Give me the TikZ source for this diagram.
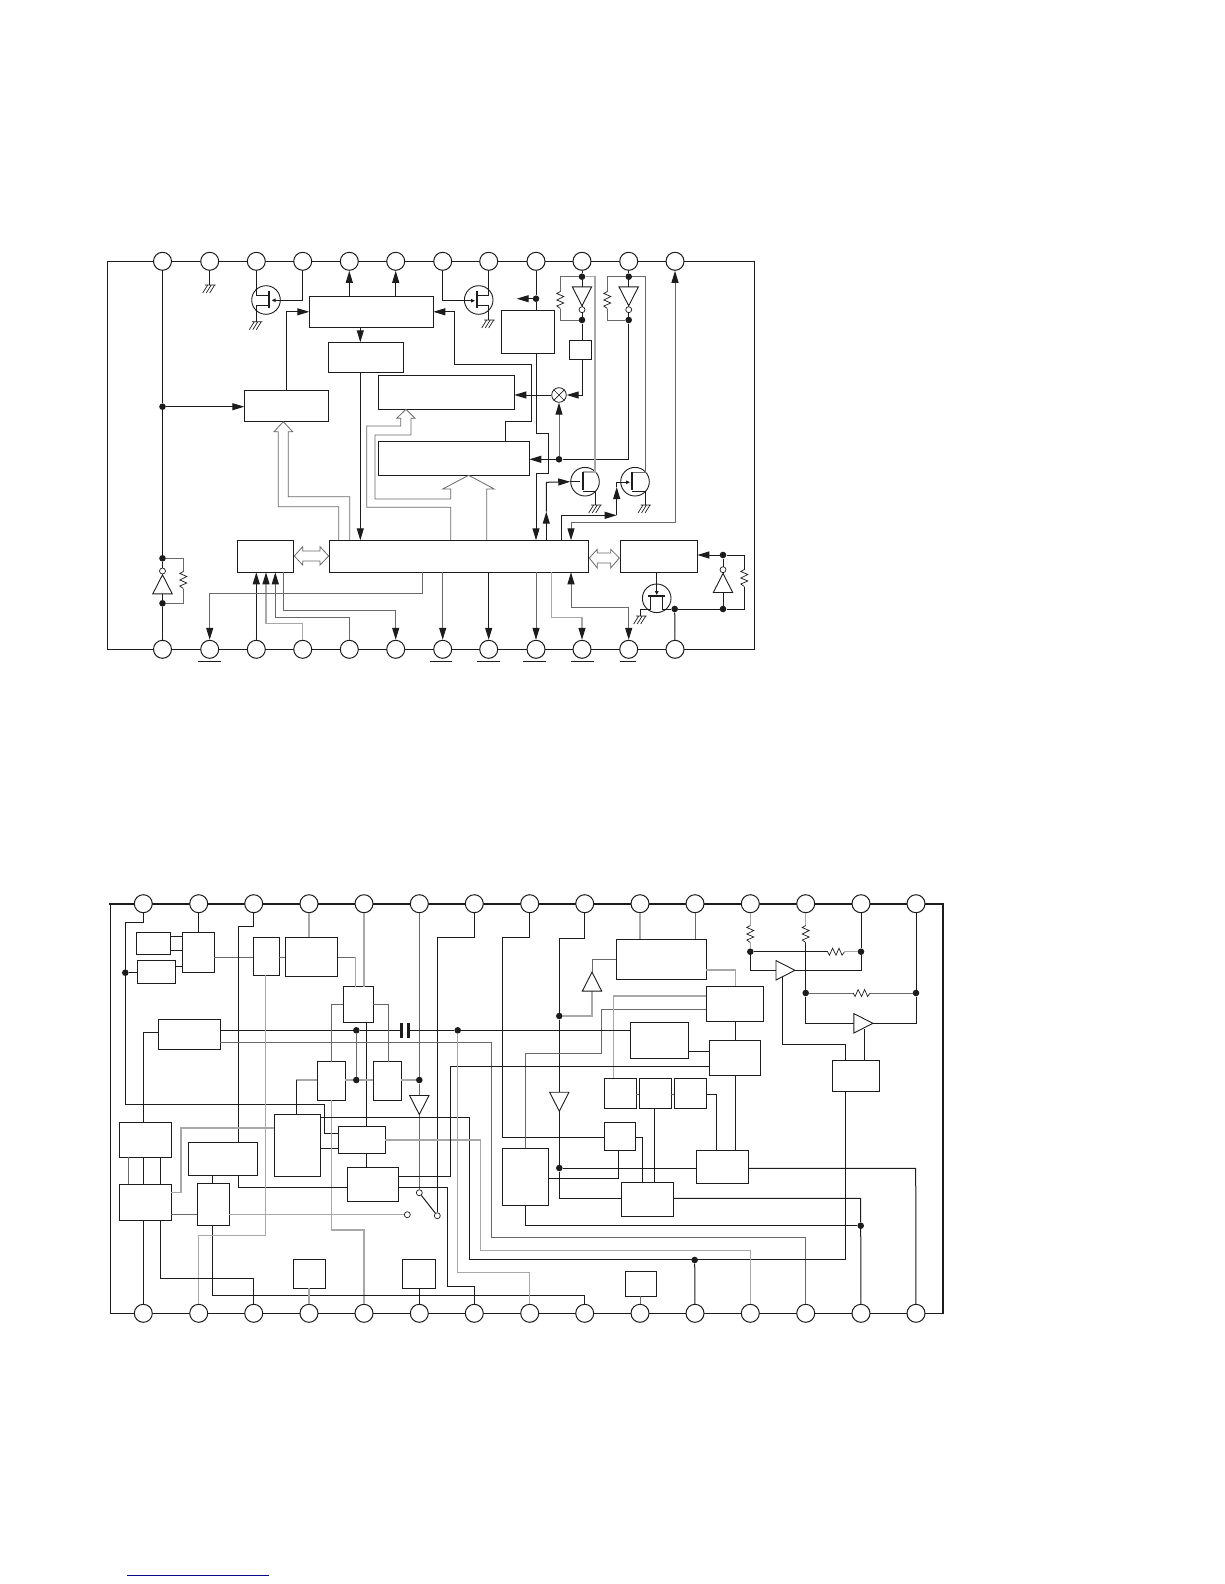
\documentclass[tikz,border=0pt]{standalone}
\usepackage{tikz}
\usetikzlibrary{arrows.meta,calc}
\definecolor{wirelight}{RGB}{168,168,168}
\definecolor{wiremid}{RGB}{105,105,105}
\definecolor{wiredark}{RGB}{28,28,28}
\definecolor{rulenavy}{RGB}{10,10,140}
\tikzset{
  x=1pt,y=-1pt,
  blk/.style={rectangle, draw=wiredark, line width=1pt, anchor=north west, inner sep=0pt, outer sep=0pt},
  pad/.style={circle, draw=wiredark, fill=white, line width=1pt, inner sep=0pt, minimum size=18pt},
  jn/.style={circle, fill=wiredark, inner sep=0pt, minimum size=6.6pt},
  opn/.style={circle, draw=wiredark, fill=white, line width=0.7pt, inner sep=0pt, minimum size=6pt},
  fetc/.style={circle, draw=wiredark, line width=0.9pt, inner sep=0pt, minimum size=28.6pt},
  wire/.style={line width=1pt, draw=wiredark},
  wirem/.style={line width=1pt, draw=wiremid},
  wirel/.style={line width=1.2pt, draw=wirelight},
  wireth/.style={line width=2pt, draw=wiredark},
  barline/.style={line width=2pt, draw=wiredark},
  capbar/.style={line width=3pt, draw=wiredark},
  arr/.style={wire, -{Triangle[length=12pt,width=7pt,wiredark]}},
  arrm/.style={wirem, -{Triangle[length=12pt,width=7pt,wiredark]}},
  arrl/.style={wirel, -{Triangle[length=12pt,width=7pt,wiredark]}},
  arrs/.style={wire, -{Triangle[length=4pt,width=3.5pt,wiredark]}},
  dbl/.style={wirem, {Triangle[length=12pt,width=7pt,wiredark]}-{Triangle[length=12pt,width=7pt,wiredark]}},
  bus/.style={line width=0.8pt, draw=wiremid},
  gndsym/.pic={\draw[line width=0.7pt,draw=wiredark] (-4.5,0) -- (6,0) (-2,0) -- (-7,8) (1.5,0) -- (-3.5,8) (5,0) -- (0,8);},
  reszig/.pic={\fill[white] (-4.5,-8.5) rectangle (4.5,8.5);
    \draw[line width=0.7pt,draw=wiredark] (0,-8.5) -- (-3.5,-6.5) -- (3.5,-3.5) -- (-3.5,0) -- (3.5,3) -- (-3.5,6) -- (0,8.5);},
  trisym/.pic={\draw[line width=0.9pt,draw=wiredark,fill=white] (-9.5,-9.7) -- (9.5,0) -- (-9.5,9.7) -- cycle;},
}
\begin{document}
\begin{tikzpicture}
  \useasboundingbox (0,0) rectangle (1224,1584);
  % upper chip
  \draw[wire] (107.5,261.3) rectangle (754.3,649.3);
  \foreach \n/\x in {1/162.5,2/209.7,3/256.3,4/302.7,5/349.3,6/395.7,7/442.7,8/488.7,9/536,10/582,11/628.7,12/675}{
    \node[pad] (pta\n) at (\x,261.3) {};
    \node[pad] (ptb\n) at (\x,649.3) {};
  }
  \foreach \x/\w in {197.7/23,430/22,477/23,523/23,571/23,620/16}{\draw[wire] (\x,661.3) -- ++(\w,0);}
  \foreach \n/\x/\y/\w/\h in {blka/309.3/296.3/124/31, blkb/328.3/342.3/75/30, blkc/244.3/390.3/84.4/31,
    blkd/378.3/375.3/136/34, blke/378.3/441.3/151/34, blkf/237.3/540.3/56/32, blkg/329.3/540.3/259/32,
    blkh/620.3/540.3/77/32, blki/501.3/310.3/53/43, blkj/569.3/340.3/22.4/19}{
    \node[blk,minimum width=\w,minimum height=\h] (\n) at (\x,\y) {};
  }
  \foreach \n/\x/\y in {ja1/162.5/406.7, ja2/162.5/558.3, ja3/162.5/603.3, ja4/536/298.7, ja5/582/276.7, ja6/582/320,
    ja7/628.7/276.7, ja8/628.7/320, ja9/559/459.3, ja10/674.7/609, ja11/723/609, ja12/723/555}{
    \node[jn] (\n) at (\x,\y) {};
  }
  \node[fetc] (fa) at (266,300) {};
  \node[fetc] (fb) at (478.7,300) {};
  \node[fetc] (fc) at (585,481.7) {};
  \node[fetc] (fd) at (635,481.7) {};
  \node[fetc] (fe) at (656.7,598.3) {};
  \node[circle,draw=wiredark,line width=0.8pt,inner sep=0pt,minimum size=14.6pt] (mix) at (559,395) {};
  \draw[wiredark,line width=0.7pt] (mix.north west) -- (mix.south east) (mix.north east) -- (mix.south west);
  % left rail and its inverter
  \draw[wire] (pta1) -- (ja1) -- (ja2) -- (ja3) -- (ptb1);
  \draw[wirem] (ja2) -- (183.3,558.3) -- (183.3,603.3) -- (ja3);
  \draw[arr] (ja1) -- (blkc.west |- ja1);
  \draw[wire] (pta2) -- (209.7,285);
  \draw[wire] (pta3) -- (256.3,295) -- (269.3,295) (269.3,305) -- (256.3,305) -- (256.3,321.7);
  \draw[barline] (269.3,291) -- (269.3,308.3);
  \draw[arrs] (pta4) -- (302.7,300.3) -- (271.7,300.3);
  \draw[arr] (blkc.north) |- (blka.west);
  \foreach \a in {pta5,pta6}{\draw[arr] (blka.north -| \a) -- (\a);}
  \draw[arr] (blka.south -| 360.3,0) -- (blkb.north -| 360.3,0);
  \draw[arr] (blkb.south -| 360.3,0) -- (blkg.north -| 360.3,0);
  \draw[arr] (blke.north -| 505.3,0) -- (505.3,421.3) -- (531.3,421.3) -- (531.3,364.3) -- (454.3,364.3) -- (454.3,311.8) -- (blka.east);
  \draw[arrs] (pta7) -- (442.7,300.7) -- (475,300.7);
  \draw[wire] (pta8) -- (488.7,295) -- (476.7,295) (476.7,305) -- (488.7,305) -- (488.7,320);
  \draw[barline] (476.7,291) -- (476.7,308.3);
  \draw[wire] (pta9) -- (ja4) -- (blki.north -| ja4);
  \draw[arr] (ja4) -- (516.7,298.7);
  \draw[arr] (blki.south -| ja4) -- (536,433.3) -- (548.3,433.3) -- (548.3,473.3) -- (536,473.3) -- (blkg.north -| ja4);
  % output stages
  \draw[wire] (pta10) -- (ja5) -- (ja6) -- (blkj.north -| ja6);
  \draw[arr] (blkj.south -| ja6) -- (582,395) -- (mix.east);
  \draw[arr] (mix.west) -- (blkd.east |- mix);
  \draw[arrm] (ja9) -- (mix.south);
  \draw[arr] (ja9) -- (blke.east |- ja9);
  \draw[wire] (ja8) -- (628.7,459.3) -- (ja9);
  \draw[wire] (pta11) -- (ja7) -- (ja8);
  \draw[wirem] (ja5) -- (560.3,276.7) -- (560.3,320) -- (ja6);
  \draw[wirel] (ja5) -- (595,276.7) -- (595,472) -- (582.7,472);
  \draw[wirem] (ja7) -- (607.3,276.7) -- (607.3,320) -- (ja8);
  \draw[wirem] (ja7) -- (645,276.7) -- (645,472) -- (632.3,472);
  \draw[wire] (582.7,491) -- (595.7,491) -- (595.7,505);
  \draw[wire] (632.3,491) -- (645,491) -- (645,505);
  \draw[barline] (582.7,472) -- (582.7,490) (632.3,472) -- (632.3,490);
  \draw[arr] (blkg.north -| 546.3,0) -- (546.3,511.7);
  \draw[arr] (546.3,511.7) -- (546.3,482.3) -- (fc.west);
  \draw[wire] (fc.west) -- (580,481.7);
  \draw[arr] (blkg.north -| 561.3,0) -- (561.3,515.3) -- (616.7,515.3);
  \draw[arr] (616.7,515.3) -- (616.7,487);
  \draw[arrs] (616.7,487) -- (616.7,482.3) -- (630,482.3);
  \draw[dbl] (pta12) -- (675,522.7) -- (571,522.7) -- (blkg.north -| 571,0);
  % buses
  \draw[bus] (blkg.north -| 338.7,0) -- (338.7,506.7) -- (278.3,506.7) -- (278.3,431.7) -- (274,431.7) -- (283.3,421.7) -- (292.7,431.7) -- (288.3,431.7) -- (288.3,496.7) -- (349.7,496.7) -- (blkg.north -| 349.7,0);
  \draw[bus] (blkg.north -| 450.7,0) -- (450.7,507.3) -- (366.7,507.3) -- (366.7,426) -- (400.7,426) -- (400.7,418.3) -- (396.7,418.3) -- (406,409.3) -- (415,418.3) -- (411,418.3) -- (411,435) -- (375,435) -- (375,499) -- (450.7,499) -- (450.7,489) -- (442.7,489) -- (468.7,475.3) -- (494.3,489) -- (486.7,489) -- (blkg.north -| 486.7,0);
  \draw[bus] (294.3,556) -- (302.7,546.7) -- (302.7,551) -- (320,551) -- (320,546.7) -- (328.7,556) -- (320,565) -- (320,561) -- (302.7,561) -- (302.7,565) -- cycle;
  \draw[bus] (589.3,558) -- (597.3,549.3) -- (597.3,553) -- (610.7,553) -- (610.7,549.3) -- (619.3,558) -- (610.7,568) -- (610.7,563) -- (597.3,563) -- (597.3,568) -- cycle;
  % lower pins
  \draw[arr] (ptb3) -- (blkf.south -| ptb3);
  \draw[arrl] (ptb4) -- (302.7,623.3) -- (266,623.3) -- (blkf.south -| 266,0);
  \draw[arrm] (ptb5) -- (349.3,617.7) -- (275.3,617.7) -- (blkf.south -| 275.3,0);
  \draw[arrm] (blkf.south -| 283.3,0) -- (283.3,610) -- (395.7,610) -- (ptb6);
  \draw[arrm] (blkg.south -| 422.3,0) -- (422.3,593) -- (209.7,593) -- (ptb2);
  \draw[arrm] (blkg.south -| ptb7) -- (ptb7);
  \draw[arr] (blkg.south -| ptb8) -- (ptb8);
  \draw[arrm] (blkg.south -| ptb9) -- (ptb9);
  \draw[arrl] (blkg.south -| 551.7,0) -- (551.7,617.7) -- (582,617.7) -- (ptb10);
  \draw[dbl] (ptb11) -- (628.7,607.7) -- (571,607.7) -- (blkg.south -| 571,0);
  \draw[arrs] (blkh.south -| fe) -- (656.7,595);
  \draw[barline] (648.3,595.7) -- (665,595.7);
  \draw[wire] (640.7,616) -- (640.7,609) -- (650,609) -- (650,595.7) (662.3,595.7) -- (662.3,609) -- (ja10);
  \draw[wire] (ja10) -- (ptb12);
  \draw[wire] (ja10) -- (ja11) -- (ja12);
  \draw[wire] (ja11) -- (744.3,609) -- (744.3,555) -- (ja12);
  \draw[arr] (ja12) -- (blkh.east |- ja12);
  % symbols on the wires
  \foreach \x/\y in {209.7/285,256.3/321.7,488.7/320,595.7/505,645/505,640.7/616}{\pic at (\x,\y) {gndsym};}
  \foreach \x/\y in {183.3/580,560.3/300,607.3/300,744.3/578}{\pic at (\x,\y) {reszig};}
  \pic[rotate=90] at (162.5,584.3) {trisym};
  \pic[rotate=-90] at (582,296.3) {trisym};
  \pic[rotate=-90] at (628.7,296.3) {trisym};
  \pic[rotate=90] at (723,583) {trisym};
  \foreach \n/\x/\y in {ba/162.5/571, bb/582/309.7, bc/628.7/309.7, bd/723/569.7}{\node[opn] (\n) at (\x,\y) {};}

  % lower chip
  \draw[wire] (942.7,1313.3) -- (110.3,1313.3) -- (110.3,903.7);
  \draw[wireth] (109.3,903.7) -- (942.7,903.7) -- (942.7,1314.3);
  \foreach \n/\x in {1/143.3,2/198.7,3/253.7,4/309,5/364,6/419.3,7/474.3,8/529.7,9/584.7,10/640,11/695,12/750.3,13/805.7,14/861,15/916}{
    \node[pad] (pla\n) at (\x,903.7) {};
    \node[pad] (plb\n) at (\x,1313.3) {};
  }
  \foreach \n/\x/\y/\w/\h in {blk1/136.3/932.3/34.4/22, blk2/137.3/960.3/38.4/23, blk3/182.3/932.3/32/40,
    blk4/253.3/937.3/26/38, blk5/285.3/937.3/52.4/39, blk6/343.3/986.7/30/35.6, blk7/158.3/1019.3/62/30,
    blk8/317.3/1061.7/28/38.6, blk9/373.3/1061.7/28/38.6, blk10/119.3/1122.3/52/35, blk11/119.3/1184.3/52/36,
    blk12/188.3/1142.3/69/33, blk13/197.3/1183.3/32/42, blk14/274.3/1114.3/46/62, blk15/338.3/1126.3/47/27,
    blk16/347.3/1167.3/51/34, blk17/293.3/1259.3/32/29, blk18/402.3/1259.3/33/29, blk19/616.3/939.3/90/40,
    blk20/706.3/986.3/57/35, blk21/630.3/1022.3/58/36, blk22/709.3/1040.3/51/35, blk23/604.3/1078.3/32/30,
    blk24/639.3/1078.3/32/30, blk25/674.3/1078.3/32/30, blk26/604.3/1122.3/31/28, blk27/502.3/1148.3/46/57,
    blk28/621.3/1182.3/52/34, blk29/696.3/1150.3/52/33, blk30/625.3/1271.3/31/25, blk31/832.3/1060.3/47/31}{
    \node[blk,minimum width=\w,minimum height=\h] (\n) at (\x,\y) {};
  }
  \foreach \n/\x/\y in {jb1/125.3/972.7, jb2/356.3/1030.3, jb3/457.7/1030.3, jb4/356.3/1080, jb5/419.3/1080, jb6/559.3/1016,
    jb7/559.3/1168, jb8/860.7/1225.7, jb9/694.7/1260, jb10/750.3/951.7, jb11/861/951.7, jb12/805.7/993, jb13/916/993}{
    \node[jn] (\n) at (\x,\y) {};
  }
  \node[opn] (swa) at (419.3,1192.7) {};
  \node[opn] (swb) at (407.3,1214.7) {};
  \node[opn] (swc) at (437.3,1215.7) {};
  \foreach \a/\b/\v in {blk1/blk3/936.7, blk1/blk3/950.3, blk2/blk3/966.7, blk21/blk22/1051.3, blk14/blk15/1148.3}{
    \draw[wire] (\a.east |- 0,\v) -- (\b.west |- 0,\v);
  }
  \foreach \a/\b/\v in {blk3/blk4/957.3, blk4/blk5/957.3, blk23/blk24/1094.3, blk24/blk25/1094.3, blk11/blk13/1214.3}{
    \draw[wirem] (\a.east |- 0,\v) -- (\b.west |- 0,\v);
  }
  \foreach \a/\b/\v in {blk6/blk15/366.7, blk15/blk16/366.7, blk10/blk11/143.3, blk10/blk11/160.3, blk12/blk13/212.3,
    blk24/blk28/654.3, blk20/blk22/735.3, blk22/blk29/735.3}{
    \draw[wire] (\a.south -| \v,0) -- (\b.north -| \v,0);
  }
  \draw[wirem] (blk10.south -| 128.3,0) -- (blk11.north -| 128.3,0);
  % top pins
  \draw[wire] (pla1) -- (143.3,922.3) -- (125.3,922.3) -- (125.3,1104.3) -- (324.3,1104.3) -- (324.3,1133.3) -- (blk15.west |- 0,1133.3);
  \draw[wire] (jb1) -- (blk2.west |- jb1);
  \draw[wire] (pla2) -- (blk3.north -| pla2);
  \draw[wire] (pla3) -- (253.7,926.3) -- (238.3,926.3) -- (blk12.north -| 238.3,0);
  \draw[wirel] (pla4) -- (blk5.north -| pla4);
  \draw[wirel] (pla5) -- (blk6.north -| pla5);
  \draw[wirem] (blk5.east |- 0,957.3) -- (355.3,957.3);
  \draw[wirel] (355.3,957.3) -- (blk6.north -| 355.3,0);
  \draw[wirem] (pla6) -- (jb5) -- (swa);
  \draw[wire] (pla7) -- (474.3,937.3) -- (437.3,937.3) -- (swc);
  \draw[wire] (pla8) -- (529.7,937.3) -- (502.3,937.3) -- (502.3,1137.3) -- (blk26.west |- 0,1137.3);
  \draw[wire] (pla9) -- (584.7,938.3) -- (559.3,938.3) -- (jb6) -- (jb7) -- (559.3,1198.3) -- (blk28.west |- 0,1198.3);
  \draw[wirel] (jb6) -- (592,1016) -- (592,991);
  \draw[wirem] (592,972.3) -- (592,959.3) -- (blk19.west |- 0,959.3);
  \draw[wirel] (pla10) -- (blk19.north -| pla10);
  \draw[wirem] (pla11) -- (blk19.north -| pla11);
  \draw[wirel] (blk19.east |- 0,970) -- (735.3,970) -- (blk20.north -| 735.3,0);
  % middle of the lower chip
  \draw[wire] (jb7) -- (blk29.west |- jb7);
  \draw[wire] (blk27.east |- 0,1178.3) -- (618.7,1178.3) -- (blk26.south -| 618.7,0);
  \draw[wire] (blk27.south -| 525.3,0) -- (525.3,1225.7) -- (jb8);
  \draw[wire] (blk28.east |- 0,1198.3) -- (860.7,1198.3) -- (jb8) -- (plb14);
  \draw[wirem] (blk27.north -| 525.3,0) -- (525.3,1053.3) -- (601.7,1053.3) -- (601.7,1009.3) -- (blk20.west |- 0,1009.3);
  \draw[wirel] (blk23.north -| 613.3,0) -- (613.3,996) -- (blk20.west |- 0,996);
  \draw[wire] (blk26.east |- 0,1137.3) -- (642.3,1137.3) -- (blk28.north -| 642.3,0);
  \draw[wire] (blk25.east |- 0,1094.3) -- (716.3,1094.3) -- (blk29.north -| 716.3,0);
  \draw[wire] (blk7.east |- jb2) -- (jb2) -- (401.3,1030.3) (408.7,1030.3) -- (jb3) -- (blk21.west |- jb3);
  \draw[capbar] (401.3,1023.3) -- (401.3,1037.7) (408.7,1023.3) -- (408.7,1037.7);
  \draw[wirem] (blk7.east |- 0,1042.3) -- (491.3,1042.3) -- (491.3,1237.7) -- (805.7,1237.7) -- (plb13);
  \draw[wire] (blk7.west |- 0,1032.3) -- (143.3,1032.3) -- (blk10.north -| 143.3,0);
  \draw[wirem] (jb2) -- (jb4);
  \draw[wirel] (blk8.east |- jb4) -- (jb4) -- (blk9.west |- jb4);
  \draw[wirel] (blk9.east |- jb5) -- (jb5);
  \draw[wirem] (blk6.west |- 0,1004.3) -- (331.3,1004.3) -- (blk8.north -| 331.3,0);
  \draw[wirel] (blk8.south -| 331.3,0) -- (331.3,1230) -- (364,1230) -- (plb5);
  \draw[wirem] (blk6.east |- 0,1004.3) -- (388.3,1004.3) -- (blk9.north -| 388.3,0);
  \draw[wirel] (blk8.west |- jb4) -- (296.3,1080);
  \draw[wire] (296.3,1080) -- (blk14.north -| 296.3,0);
  \draw[wirel] (blk14.west |- 0,1128) -- (181,1128) -- (181,1192.3) -- (blk11.east |- 0,1192.3);
  \draw[wire] (blk14.east |- 0,1117.3) -- (469.3,1117.3) -- (469.3,1259.3) -- (845.3,1259.3) -- (blk31.south -| 845.3,0);
  \draw[wire] (jb9) -- (plb11);
  \draw[wirel] (blk15.east |- 0,1140) -- (480.7,1140) -- (480.7,1250.3) -- (750.3,1250.3) -- (plb12);
  \draw[wire] (blk16.east |- 0,1176.3) -- (450.3,1176.3) -- (450.3,1066.3) -- (blk22.west |- 0,1066.3);
  \draw[wire] (blk16.east |- 0,1187.3) -- (447.3,1187.3) -- (447.3,1286) -- (474.3,1286) -- (plb7);
  \draw[wire] (blk16.west |- 0,1187.3) -- (238.3,1187.3) -- (blk12.south -| 238.3,0);
  \draw[wire] (blk13.south -| 212.3,0) -- (212.3,1295.3) -- (584.7,1295.3) -- (plb9);
  \draw[wirel] (blk13.east |- swb) -- (swb);
  \draw[wirel] (blk4.south -| 265.7,0) -- (265.7,1235.3) -- (198.7,1235.3) -- (plb2);
  \draw[wire] (blk11.south -| plb1) -- (plb1);
  \draw[wire] (blk11.south -| 160.3,0) -- (160.3,1278.3) -- (253.7,1278.3) -- (plb3);
  \draw[wirel] (blk17.south -| plb4) -- (plb4);
  \draw[wire] (blk18.south -| plb6) -- (plb6);
  \draw[wirem] (blk30.south -| plb10) -- (plb10);
  \draw[wirel] (jb3) -- (457.7,1272.7) -- (529.7,1272.7) -- (plb8);
  \draw[wire] (swa) -- (swc);
  % amplifiers
  \draw[wirel] (pla12) -- (jb10);
  \draw[wire] (jb10) -- (828.3,951.7);
  \draw[wirel] (828.3,951.7) -- (jb11);
  \draw[wire] (pla14) -- (jb11) -- (861,970.3) -- (795,970.3);
  \draw[wire] (jb10) -- (750.3,970.3) -- (776,970.3);
  \draw[wirel] (pla13) -- (805.7,941.7);
  \draw[wire] (805.7,941.7) -- (jb12) -- (805.7,1023.3) -- (854,1023.3);
  \draw[wirem] (jb12) -- (jb13);
  \draw[wire] (pla15) -- (jb13) -- (916,1023.3) -- (872.7,1023.3);
  \draw[wire] (782.3,977) -- (782.3,1044.3) -- (845.3,1044.3) -- (blk31.north -| 845.3,0);
  \draw[wire] (864.3,1029) -- (blk31.north -| 864.3,0);
  \draw[wire] (blk29.east |- 0,1168.3) -- (915.7,1168.3) -- (plb15);
  \foreach \x in {750.3,805.7}{\pic at (\x,934) {reszig};}
  \foreach \x/\y in {836/951.7,861.6/993}{\pic[rotate=90] at (\x,\y) {reszig};}
  \pic[rotate=-90] at (419.3,1105) {trisym};
  \pic[rotate=-90] at (559.3,1101.7) {trisym};
  \pic[rotate=90] at (592,981.6) {trisym};
  \pic at (785.5,970.3) {trisym};
  \pic at (863.4,1023.3) {trisym};
  % rule at the page foot
  \coordinate (rulea) at (127,1575);
  \coordinate (ruleb) at (269,1575);
  \draw[line width=1pt,draw=rulenavy] (rulea) -- (ruleb);
\end{tikzpicture}
\end{document}
